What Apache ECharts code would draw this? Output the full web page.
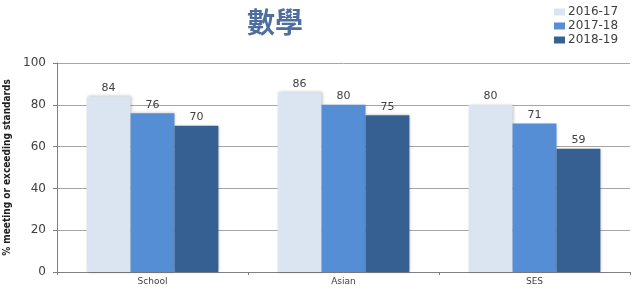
<!DOCTYPE html>
<html lang="zh-Hant">
<head>
<meta charset="utf-8" />
<title>數學</title>
<script src="https://cdn.jsdelivr.net/npm/echarts@6/dist/echarts.min.js"></script>
<style>
  html, body { margin: 0; padding: 0; background: #fff; }
  #chart { width: 640px; height: 296px; }
</style>
</head>
<body>
<div id="chart"></div>
<script>
  // 資料
  const categories = ['School', 'Asian', 'SES'];
  const years = ['2016-17', '2017-18', '2018-19'];
  const v2016 = [84, 86, 80];
  const v2017 = [76, 80, 71];
  const v2018 = [70, 75, 59];
  const colors = ['#dbe5f1', '#558ed5', '#366092'];

  const chart = echarts.init(document.getElementById('chart'));

  const makeSeries = function (name, data, color) {
    return {
      name: name,
      type: 'bar',
      data: data,
      barGap: '0%',
      barCategoryGap: '31%',
      itemStyle: {
        color: color,
        shadowColor: 'rgba(0,0,0,0.25)',
        shadowBlur: 3,
        shadowOffsetX: 1,
        shadowOffsetY: 0
      },
      label: {
        show: true,
        position: 'top',
        distance: 3,
        color: '#404040',
        fontFamily: 'DejaVu Sans',
        fontSize: 11
      }
    };
  };

  chart.setOption({
    animation: false,
    title: {
      text: '數學',
      left: 270,
      top: 3,
      textAlign: 'center',
      textStyle: {
        fontFamily: 'Noto Sans CJK TC',
        fontSize: 28,
        fontWeight: 'bold',
        color: '#4e6e9e'
      }
    },
    legend: {
      orient: 'vertical',
      left: 549,
      top: 1,
      itemWidth: 11,
      itemHeight: 7,
      itemGap: 2,
      icon: 'rect',
      data: years,
      textStyle: {
        fontFamily: 'DejaVu Sans',
        fontSize: 12,
        color: '#404040',
        padding: [0, 0, 0, -2]
      }
    },
    grid: {
      left: 57,
      right: 10,
      top: 63,
      bottom: 24,
      containLabel: false,
      outerBoundsMode: 'none'
    },
    xAxis: {
      type: 'category',
      data: categories,
      axisLine: { lineStyle: { color: '#808080', width: 1 } },
      axisTick: { show: true, length: 3, lineStyle: { color: '#808080' } },
      axisLabel: {
        fontFamily: 'DejaVu Sans',
        fontSize: 9,
        color: '#404040',
        margin: 5
      }
    },
    yAxis: {
      type: 'value',
      min: 0,
      max: 100,
      interval: 20,
      name: '% meeting or exceeding standards',
      nameLocation: 'middle',
      nameGap: 41,
      nameTextStyle: {
        fontFamily: 'DejaVu Sans Condensed',
        fontSize: 10,
        fontWeight: 'bold',
        color: '#202020'
      },
      axisLine: { show: true, lineStyle: { color: '#808080', width: 1 } },
      axisTick: { show: true, length: 4, lineStyle: { color: '#808080' } },
      splitLine: { lineStyle: { color: '#a6a6a6', width: 1 } },
      axisLabel: {
        fontFamily: 'DejaVu Sans',
        fontSize: 12,
        color: '#404040',
        margin: 11
      }
    },
    series: [
      makeSeries(years[0], v2016, colors[0]),
      makeSeries(years[1], v2017, colors[1]),
      makeSeries(years[2], v2018, colors[2])
    ]
  });

  window.onresize = function () {
    chart.resize();
  };
</script>
</body>
</html>
